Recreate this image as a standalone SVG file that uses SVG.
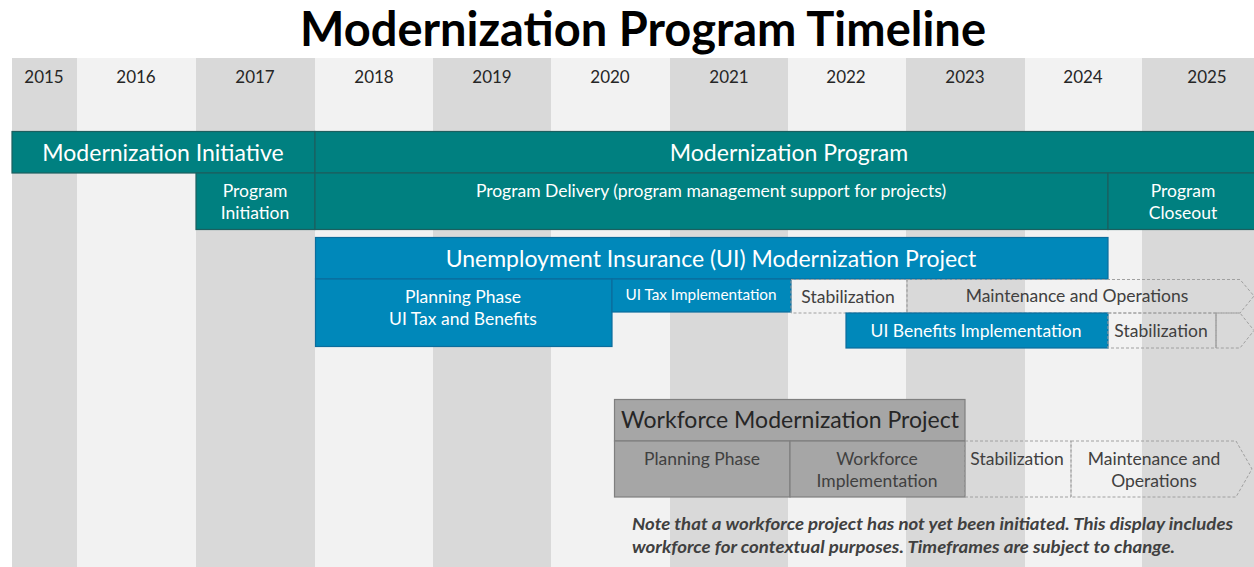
<svg xmlns="http://www.w3.org/2000/svg" width="1254" height="567" viewBox="0 0 1254 567">
  <style>
    text { font-family: Lato, "Open Sans", "Liberation Sans", sans-serif; text-anchor: middle; }
    .title { font-size: 47px; font-weight: bold; fill: #000; }
    .year { font-size: 17px; fill: #262626; }
    .colA { fill: #d9d9d9; }
    .colB { fill: #f2f2f2; }
    .teal { fill: #008080; stroke: #1c5f5f; stroke-width: 1.2; }
    .blue { fill: #0088ba; stroke: #0b6d9d; stroke-width: 1.2; }
    .grey { fill: #a6a6a6; stroke: #7f7f7f; stroke-width: 1.2; }
    .dash { fill: none; stroke: #a0a0a0; stroke-width: 1; stroke-dasharray: 3 2; }
    .wBig { font-size: 23px; fill: #fff; }
    .wMed { font-size: 17.5px; fill: #fff; }
    .wSm { font-size: 15.3px; fill: #fff; }
    .dMed { font-size: 17.5px; fill: #404040; }
    .dBig { font-size: 23px; fill: #262626; }
    .note { font-size: 17px; font-weight: bold; font-style: italic; fill: #404040; text-anchor: start; }
  </style>

  <rect width="1254" height="567" fill="#fff"/>

  <text class="title" x="643" y="46">Modernization Program Timeline</text>

  <!-- year columns -->
  <g id="years">
    <rect class="colA" x="12" y="58" width="65" height="509"/>
    <rect class="colB" x="77" y="58" width="119" height="509"/>
    <rect class="colA" x="196" y="58" width="119" height="509"/>
    <rect class="colB" x="315" y="58" width="118" height="509"/>
    <rect class="colA" x="433" y="58" width="118" height="509"/>
    <rect class="colB" x="551" y="58" width="119" height="509"/>
    <rect class="colA" x="670" y="58" width="118" height="509"/>
    <rect class="colB" x="788" y="58" width="118" height="509"/>
    <rect class="colA" x="906" y="58" width="119" height="509"/>
    <rect class="colB" x="1025" y="58" width="117" height="509"/>
    <rect class="colA" x="1142" y="58" width="112" height="509"/>
    <text class="year" x="44" y="83">2015</text>
    <text class="year" x="136" y="83">2016</text>
    <text class="year" x="255" y="83">2017</text>
    <text class="year" x="374" y="83">2018</text>
    <text class="year" x="492" y="83">2019</text>
    <text class="year" x="610" y="83">2020</text>
    <text class="year" x="729" y="83">2021</text>
    <text class="year" x="846" y="83">2022</text>
    <text class="year" x="965" y="83">2023</text>
    <text class="year" x="1083" y="83">2024</text>
    <text class="year" x="1207" y="83">2025</text>
  </g>

  <!-- program rows -->
  <g id="modernization-initiative">
    <rect class="teal" x="12" y="131.5" width="303" height="41.5"/>
    <text class="wBig" x="163" y="161">Modernization Initiative</text>
  </g>
  <g id="modernization-program">
    <rect class="teal" x="315" y="131.5" width="945" height="41.5"/>
    <text class="wBig" x="789" y="161">Modernization Program</text>
  </g>
  <g id="program-initiation">
    <rect class="teal" x="196" y="173" width="119" height="56.5"/>
    <text class="wMed" x="255" y="197">Program</text>
    <text class="wMed" x="255" y="219">Initiation</text>
  </g>
  <g id="program-delivery">
    <rect class="teal" x="315" y="173" width="793" height="56.5"/>
    <text class="wMed" x="711" y="197">Program Delivery (program management support for projects)</text>
  </g>
  <g id="program-closeout">
    <rect class="teal" x="1108" y="173" width="152" height="56.5"/>
    <text class="wMed" x="1183" y="197">Program</text>
    <text class="wMed" x="1183" y="219">Closeout</text>
  </g>

  <!-- UI project -->
  <g id="ui-project">
    <rect class="blue" x="315.5" y="237.5" width="792.5" height="41.5"/>
    <text class="wBig" x="711" y="267">Unemployment Insurance (UI) Modernization Project</text>
  </g>
  <g id="ui-planning">
    <rect class="blue" x="315.5" y="279" width="296.5" height="67.5"/>
    <text class="wMed" x="463" y="303">Planning Phase</text>
    <text class="wMed" x="463" y="325">UI Tax and Benefits</text>
  </g>
  <g id="ui-tax-impl">
    <rect class="blue" x="612" y="279" width="179" height="33"/>
    <text class="wSm" x="701" y="300">UI Tax Implementation</text>
  </g>
  <g id="ui-tax-stabilization">
    <rect class="dash" x="791" y="279.5" width="116" height="33.5"/>
    <text class="dMed" x="848" y="303">Stabilization</text>
  </g>
  <g id="ui-tax-maintenance">
    <polygon class="dash" points="907,279.5 1240,279.5 1254,296 1240,313 907,313"/>
    <text class="dMed" x="1077" y="302">Maintenance and Operations</text>
  </g>
  <g id="ui-benefits-impl">
    <rect class="blue" x="846" y="313" width="262" height="35"/>
    <text class="wMed" x="976" y="337">UI Benefits Implementation</text>
  </g>
  <g id="ui-benefits-stabilization">
    <rect class="dash" x="1108" y="313" width="108" height="35"/>
    <text class="dMed" x="1161" y="337">Stabilization</text>
  </g>
  <g id="ui-benefits-maintenance">
    <polygon class="dash" points="1216,313 1240,313 1254,330.5 1240,348 1216,348"/>
    <line x1="1216" y1="313" x2="1216" y2="348" stroke="#a0a0a0" stroke-width="1"/>
  </g>

  <!-- Workforce project -->
  <g id="wf-project">
    <rect class="grey" x="614.5" y="399.5" width="350.5" height="41.5"/>
    <text class="dBig" x="790" y="428">Workforce Modernization Project</text>
  </g>
  <g id="wf-planning">
    <rect class="grey" x="614.5" y="441" width="175.5" height="56"/>
    <text class="dMed" x="702" y="465">Planning Phase</text>
  </g>
  <g id="wf-impl">
    <rect class="grey" x="790" y="441" width="175" height="56"/>
    <text class="dMed" x="877" y="465">Workforce</text>
    <text class="dMed" x="877" y="487">Implementation</text>
  </g>
  <g id="wf-stabilization">
    <rect class="dash" x="965" y="441" width="106" height="56"/>
    <text class="dMed" x="1017" y="465">Stabilization</text>
  </g>
  <g id="wf-maintenance">
    <polygon class="dash" points="1071,441 1236,441 1252,469 1236,497 1071,497"/>
    <text class="dMed" x="1154" y="465">Maintenance and</text>
    <text class="dMed" x="1154" y="487">Operations</text>
  </g>

  <g id="connectors"></g>

  <g id="note">
    <text class="note" x="632" y="530" textLength="601" lengthAdjust="spacingAndGlyphs">Note that a workforce project has not yet been initiated. This display includes</text>
    <text class="note" x="632" y="553" textLength="543" lengthAdjust="spacingAndGlyphs">workforce for contextual purposes. Timeframes are subject to change.</text>
  </g>
</svg>
